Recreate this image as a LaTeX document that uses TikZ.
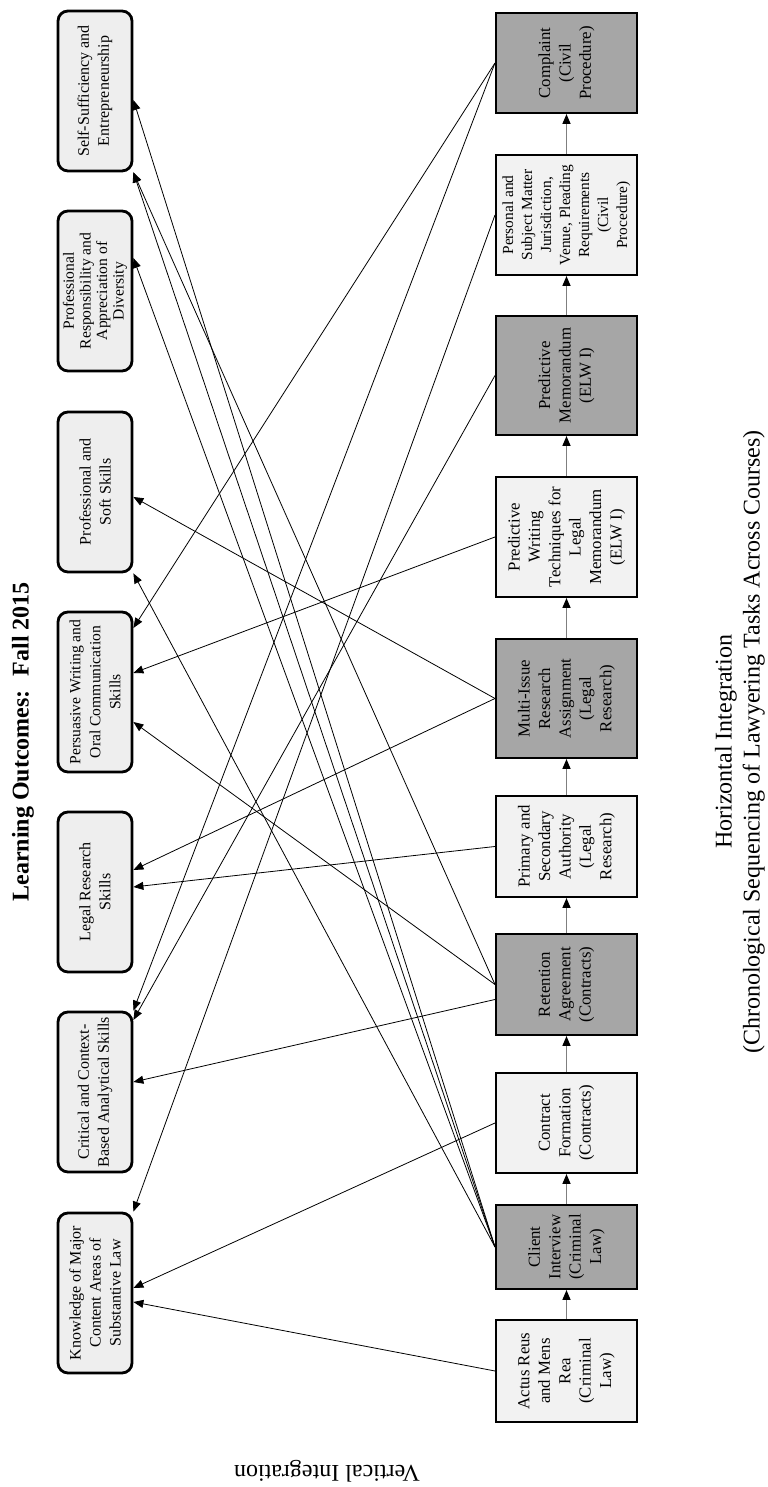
\documentclass[tikz,border=0pt]{standalone}
\usepackage{fontspec}
\setmainfont{Liberation Serif}
\usetikzlibrary{arrows.meta, calc}
\definecolor{taskdark}{HTML}{A6A6A6}
\definecolor{tasklight}{HTML}{F2F2F2}
\definecolor{outfill}{HTML}{EEEEEE}
\definecolor{flowgray}{HTML}{7F7F7F}

\begin{document}
\begin{tikzpicture}[
    x=0.5pt, y=0.5pt, rotate=90, transform shape,
    outcome/.style={draw, line width=1.4pt, rounded corners=5pt, fill=outfill, minimum width=80pt, minimum height=37pt, inner sep=1pt, align=center, font=\fontsize{8}{10}\selectfont},
    task/.style={draw, line width=1pt, minimum height=70.5pt, inner sep=1pt, align=center, font=\fontsize{8.4}{10.2}\selectfont},
    darktask/.style={task, fill=taskdark},
    lighttask/.style={task, fill=tasklight},
    flow/.style={draw=flowgray, line width=0.8pt, -{Triangle[length=5pt,width=4pt,color=black]}},
    link/.style={draw, line width=0.4pt, -{Triangle[length=5pt,width=4pt]}},
    textnode/.style={align=center, font=\fontsize{12}{14}\selectfont}
    ]
    \useasboundingbox (0,0) rectangle (1487,767);

    % Titles
    \node[textnode, font=\fontsize{12}{14}\selectfont\bfseries] (title) at (745,744) {Learning Outcomes:~ Fall 2015};
    \node[textnode] (horiz) at (745,27) {Horizontal Integration\\(Chronological Sequencing of Lawyering Tasks Across Courses)};
    \node[textnode, rotate=90] (vert) at (16,440) {Vertical Integration};

    % Learning outcomes
    \node[outcome] (know) at (194,672) {Knowledge of Major\\Content Areas of\\Substantive Law};
    \node[outcome] (crit) at (395,672) {Critical and Context-\\Based Analytical Skills};
    \node[outcome] (legal) at (595,672) {Legal Research\\Skills};
    \node[outcome, font=\fontsize{7.8}{10}\selectfont] (pers) at (795,672) {Persuasive Writing and\\Oral Communication\\Skills};
    \node[outcome] (soft) at (995,672) {Professional and\\Soft Skills};
    \node[outcome, font=\fontsize{7.8}{8.3}\selectfont] (resp) at (1196,672) {Professional\\Responsibility and\\Appreciation of\\Diversity};
    \node[outcome] (self) at (1396,672) {Self-Sufficiency and\\Entrepreneurship};

    % Lawyering tasks
    \node[lighttask, minimum width=51pt] (actus) at (116,200.5) {Actus Reus\\and Mens\\Rea\\(Criminal\\Law)};
    \node[darktask, minimum width=42pt] (client) at (240,200.5) {Client\\Interview\\(Criminal\\Law)};
    \node[lighttask, minimum width=50pt] (contract) at (364,200.5) {Contract\\Formation\\(Contracts)};
    \node[darktask, minimum width=50.5pt] (retention) at (502.5,200.5) {Retention\\Agreement\\(Contracts)};
    \node[lighttask, minimum width=50.5pt] (primary) at (640.5,200.5) {Primary and\\Secondary\\Authority\\(Legal\\Research)};
    \node[darktask, minimum width=59.5pt] (multi) at (788.5,200.5) {Multi-Issue\\Research\\Assignment\\(Legal\\Research)};
    \node[lighttask, minimum width=60pt] (predwrite) at (950,200.5) {Predictive\\Writing\\Techniques for\\Legal\\Memorandum\\(ELW I)};
    \node[darktask, minimum width=59.5pt] (predmemo) at (1111.5,200.5) {Predictive\\Memorandum\\(ELW I)};
    \node[lighttask, minimum width=60pt, font=\fontsize{7.7}{9.5}\selectfont] (personal) at (1272,200.5) {Personal and\\Subject Matter\\Jurisdiction,\\Venue, Pleading\\Requirements\\(Civil\\Procedure)};
    \node[darktask, minimum width=50pt] (complaint) at (1424,200.5) {Complaint\\(Civil\\Procedure)};

    % Horizontal sequence
    \draw[flow] (actus) -- (client);
    \draw[flow] (client) -- (contract);
    \draw[flow] (contract) -- (retention);
    \draw[flow] (retention) -- (primary);
    \draw[flow] (primary) -- (multi);
    \draw[flow] (multi) -- (predwrite);
    \draw[flow] (predwrite) -- (predmemo);
    \draw[flow] (predmemo) -- (personal);
    \draw[flow] (personal) -- (complaint);

    % Vertical links
    \coordinate (retlow) at ($(retention.north)+(-15,0)$);
    \draw[link] (complaint.north) -- ($(pers.south)+(64,0)$);
    \draw[link] (complaint.north) -- (crit.south east);
    \draw[link] (personal.north) -- (know.south east);
    \draw[link] (predmemo.north) -- ($(crit.south)+(72,0)$);
    \draw[link] (predwrite.north) -- ($(pers.south)+(19,0)$);
    \draw[link] (multi.north) -- ($(soft.south)+(-5,0)$);
    \draw[link] (multi.north) -- ($(legal.south)+(22,0)$);
    \draw[link] (primary.north) -- ($(legal.south)+(5,0)$);
    \draw[link] (retention.north) -- ($(pers.south)+(-30,0)$);
    \draw[link] (retention.north) -- (self.south west);
    \draw[link] (retlow) -- ($(crit.south)+(10,0)$);
    \draw[link] (contract.north) -- ($(know.south)+(5,0)$);
    \draw[link] (client.north) -- ($(self.south)+(-9,0)$);
    \draw[link] (client.north) -- (self.south west);
    \draw[link] (client.north) -- ($(resp.south)+(33,0)$);
    \draw[link] (client.north) -- (soft.south west);
    \draw[link] (actus.north) -- ($(know.south)+(-9,0)$);

\end{tikzpicture}
\end{document}
